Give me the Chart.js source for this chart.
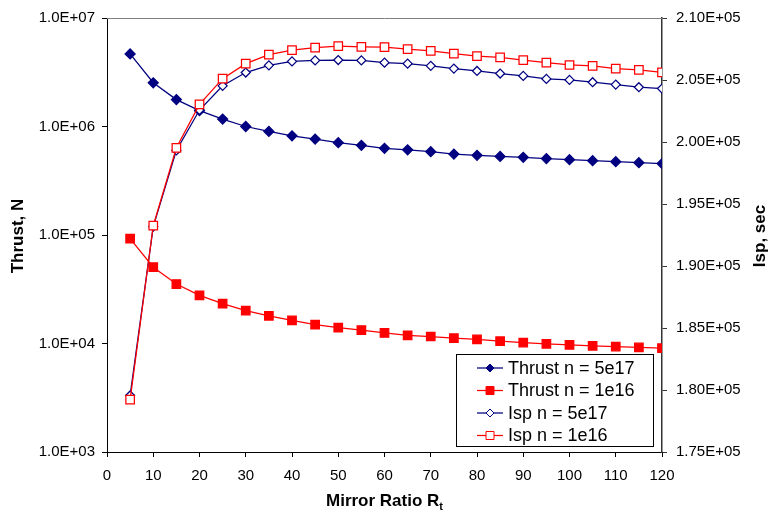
<!DOCTYPE html>
<html>
<head>
<meta charset="utf-8">
<script src="https://cdn.jsdelivr.net/npm/chart.js@4"></script>
<style>
  html, body { margin: 0; padding: 0; background: #fff; }
  #wrap { width: 769px; height: 512px; }
</style>
</head>
<body>
<div id="wrap"><canvas id="c" width="769" height="512"></canvas></div>
<script>
// mirror ratio values (x)
var ratio = [5, 10, 15, 20, 25, 30, 35, 40, 45, 50, 55, 60, 65, 70, 75, 80, 85, 90, 95, 100, 105, 110, 115, 120];

// thrust, N (left log axis)
var thrust5e17 = [4.67e6, 2.53e6, 1.77e6, 1.40e6, 1.17e6, 1.0e6, 9.0e5, 8.2e5, 7.65e5, 7.1e5, 6.7e5, 6.3e5,
                  6.1e5, 5.86e5, 5.57e5, 5.42e5, 5.3e5, 5.2e5, 5.06e5, 4.95e5, 4.84e5, 4.74e5, 4.64e5, 4.55e5];
var thrust1e16 = [9.25e4, 5.05e4, 3.53e4, 2.78e4, 2.33e4, 2.01e4, 1.80e4, 1.63e4, 1.49e4, 1.40e4, 1.33e4, 1.25e4,
                  1.19e4, 1.16e4, 1.12e4, 1.09e4, 1.05e4, 1.02e4, 9.93e3, 9.72e3, 9.52e3, 9.38e3, 9.19e3, 9.06e3];

// Isp, sec (right axis)
var isp5e17 = [179560, 193180, 199320, 202580, 204530, 205600, 206180, 206500, 206580, 206610, 206580, 206400,
               206320, 206140, 205920, 205730, 205520, 205330, 205090, 205010, 204820, 204630, 204420, 204310];
var isp1e16 = [179220, 193250, 199530, 203030, 205110, 206320, 207040, 207410, 207620, 207730, 207680, 207650,
               207490, 207340, 207120, 206930, 206820, 206610, 206400, 206210, 206130, 205920, 205810, 205620];

var seriesNames = ['Thrust n = 5e17', 'Thrust n = 1e16', 'Isp n = 5e17', 'Isp n = 1e16'];
var thrustTicks = [1e3, 1e4, 1e5, 1e6, 1e7];

var NAVY = '#000080', RED = '#ff0000';
var FONT = '"Liberation Sans", Arial, sans-serif';

var pts = function(ys) {
  return ratio.map(function(x, i) { return {x: x, y: ys[i]}; });
};

// 1.0E+06 style
var sci1 = function(v) {
  var e = Math.round(Math.log10(v));
  var m = v / Math.pow(10, e);
  return m.toFixed(1) + 'E+' + (e < 10 ? '0' : '') + e;
};

var extras = {
  id: 'extras',
  afterDraw: function(chart) {
    var ctx = chart.ctx, a = chart.chartArea;
    ctx.save();
    // top border of plot area
    ctx.strokeStyle = '#808080';
    ctx.lineWidth = 1;
    ctx.beginPath();
    ctx.moveTo(a.left, a.top + 0.5);
    ctx.lineTo(a.right, a.top + 0.5);
    ctx.stroke();

    // axis titles
    ctx.fillStyle = '#000';
    ctx.font = 'bold 17px ' + FONT;
    ctx.textAlign = 'center';
    ctx.textBaseline = 'middle';
    ctx.save();
    ctx.translate(18, 236);
    ctx.rotate(-Math.PI / 2);
    ctx.fillText('Thrust, N', 0, 0);
    ctx.restore();
    ctx.save();
    ctx.translate(760, 236);
    ctx.rotate(-Math.PI / 2);
    ctx.fillText('Isp, sec', 0, 0);
    ctx.restore();

    // x title with subscript
    ctx.textAlign = 'left';
    ctx.textBaseline = 'alphabetic';
    var main = 'Mirror Ratio R';
    ctx.font = 'bold 17px ' + FONT;
    var w1 = ctx.measureText(main).width;
    ctx.font = 'bold 11px ' + FONT;
    var w2 = ctx.measureText('t').width;
    var x0 = (a.left + a.right) / 2 - (w1 + w2) / 2;
    ctx.font = 'bold 17px ' + FONT;
    ctx.fillText(main, x0, 506);
    ctx.font = 'bold 11px ' + FONT;
    ctx.fillText('t', x0 + w1, 510);

    // legend
    var lx = 456.5, ly = 354.5, lw = 197, lh = 92;
    ctx.fillStyle = '#fff';
    ctx.fillRect(lx, ly, lw, lh);
    ctx.strokeStyle = '#000';
    ctx.strokeRect(lx, ly, lw, lh);
    ctx.font = '18px ' + FONT;
    ctx.textBaseline = 'middle';
    chart.data.datasets.forEach(function(ds, i) {
      var y = 368 + i * 22.5;
      ctx.strokeStyle = ds.borderColor;
      ctx.lineWidth = 1.25;
      ctx.beginPath();
      ctx.moveTo(477, y);
      ctx.lineTo(503, y);
      ctx.stroke();
      ctx.fillStyle = ds.pointBackgroundColor;
      ctx.strokeStyle = ds.borderColor;
      ctx.lineWidth = 1;
      ctx.beginPath();
      if (ds.pointStyle === 'rectRot') {
        var r = 4;
        ctx.moveTo(490, y - r); ctx.lineTo(490 + r, y); ctx.lineTo(490, y + r); ctx.lineTo(490 - r, y); ctx.closePath();
      } else {
        ctx.rect(486, y - 4, 8, 8);
      }
      ctx.fill();
      ctx.stroke();
      ctx.fillStyle = '#000';
      ctx.fillText(seriesNames[i], 508, y + 1);
    });
    ctx.restore();
  }
};

var ctx = document.getElementById('c').getContext('2d');
var chart = new Chart(ctx, {
  type: 'line',
  data: {
    datasets: [{
      label: seriesNames[0],
      data: pts(thrust5e17),
      yAxisID: 'yThrust',
      borderColor: NAVY,
      backgroundColor: NAVY,
      pointBackgroundColor: NAVY,
      pointBorderColor: NAVY,
      pointStyle: 'rectRot',
      pointRadius: 5,
      borderWidth: 1.25,
      order: 4
    }, {
      label: seriesNames[1],
      data: pts(thrust1e16),
      yAxisID: 'yThrust',
      borderColor: RED,
      backgroundColor: RED,
      pointBackgroundColor: RED,
      pointBorderColor: RED,
      pointStyle: 'rect',
      pointRadius: 6,
      borderWidth: 1.25,
      order: 3
    }, {
      label: seriesNames[2],
      data: pts(isp5e17),
      yAxisID: 'yIsp',
      borderColor: NAVY,
      backgroundColor: '#fff',
      pointBackgroundColor: '#fff',
      pointBorderColor: NAVY,
      pointStyle: 'rectRot',
      pointRadius: 4.5,
      borderWidth: 1.25,
      order: 2
    }, {
      label: seriesNames[3],
      data: pts(isp1e16),
      yAxisID: 'yIsp',
      borderColor: RED,
      backgroundColor: '#fff',
      pointBackgroundColor: '#fff',
      pointBorderColor: RED,
      pointStyle: 'rect',
      pointRadius: 6,
      borderWidth: 1.25,
      order: 1
    }]
  },
  options: {
    responsive: false,
    animation: false,
    layout: { padding: { top: 15, left: 0, right: 0, bottom: 0 } },
    plugins: {
      legend: { display: false },
      tooltip: { enabled: false }
    },
    scales: {
      x: {
        type: 'linear',
        min: 0,
        max: 120,
        ticks: { stepSize: 10, color: '#000', font: { family: FONT, size: 15 }, padding: 10, maxRotation: 0 },
        grid: { display: true, drawOnChartArea: false, drawTicks: true, tickLength: 5, color: '#000' },
        border: { color: '#000', width: 1 },
        afterFit: function(s) { s.height = 60; }
      },
      yThrust: {
        type: 'logarithmic',
        position: 'left',
        min: 1e3,
        max: 1e7,
        afterBuildTicks: function(s) {
          s.ticks = thrustTicks.map(function(v) { return {value: v, major: true}; });
        },
        ticks: {
          color: '#000',
          font: { family: FONT, size: 15 },
          padding: 7,
          callback: function(v) { return sci1(v); }
        },
        grid: { display: true, drawOnChartArea: false, drawTicks: true, tickLength: 5, color: '#000' },
        border: { color: '#000', width: 1 },
        afterFit: function(s) { s.width = 107; }
      },
      yIsp: {
        type: 'linear',
        position: 'right',
        min: 175000,
        max: 210000,
        ticks: {
          stepSize: 5000,
          color: '#000',
          font: { family: FONT, size: 15 },
          padding: 9,
          callback: function(v) { return (v / 1e5).toFixed(2) + 'E+05'; }
        },
        grid: { display: true, drawOnChartArea: false, drawTicks: true, tickLength: 5, color: '#333' },
        border: { color: '#333', width: 1.5 },
        afterFit: function(s) { s.width = 107; }
      }
    }
  },
  plugins: [extras]
});
</script>
</body>
</html>
